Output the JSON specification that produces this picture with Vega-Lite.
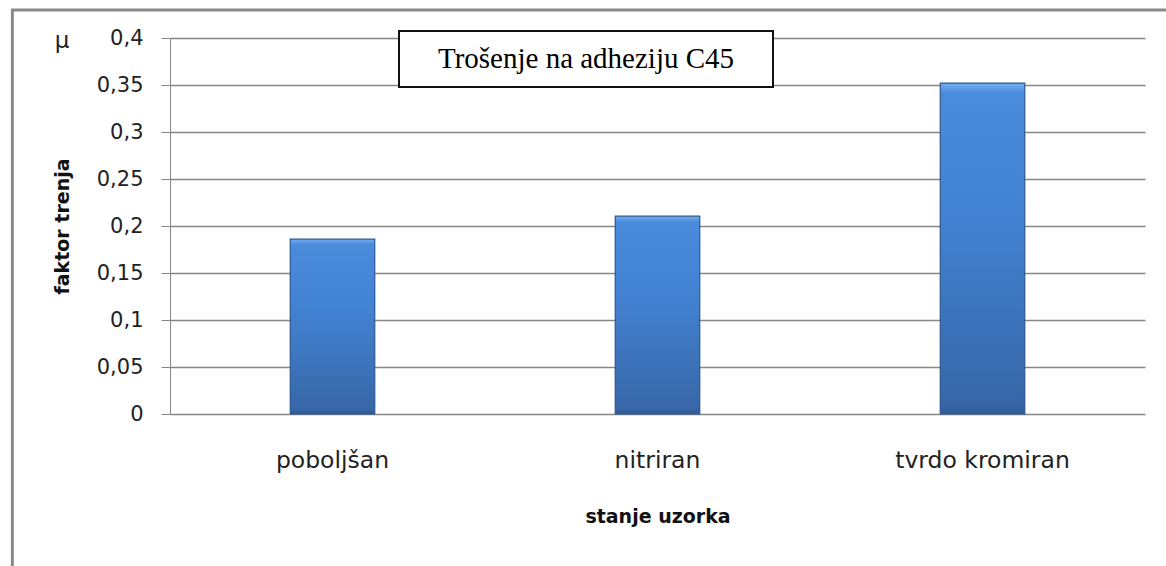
{
  "$schema": "https://vega.github.io/schema/vega-lite/v6.json",
  "width": 975,
  "height": 376,
  "autosize": {"type": "none"},
  "padding": {"left": 170, "top": 38, "right": 21, "bottom": 152},
  "background": "white",
  "config": {"view": {"stroke": null}},
  "resolve": {"scale": {"x": "independent", "y": "independent"}},
  "layer": [
    {
      "data": {"values": [{}]},
      "mark": {"type": "rect", "filled": false, "stroke": "#8a8a8a", "strokeWidth": 3},
      "encoding": {
        "x": {"datum": -0.485, "type": "quantitative", "scale": {"domain": [0, 3], "nice": false, "zero": false}, "axis": null},
        "x2": {"datum": 3.3},
        "y": {"datum": -0.3, "type": "quantitative", "scale": {"domain": [0, 0.4], "nice": false, "zero": false}, "axis": null},
        "y2": {"datum": 0.4298}
      }
    },
    {
      "data": {"values": [
        {"stanje": "poboljšan", "mu": 0.186},
        {"stanje": "nitriran", "mu": 0.2105},
        {"stanje": "tvrdo kromiran", "mu": 0.352}
      ]},
      "mark": {
        "type": "bar",
        "stroke": "#2c5690",
        "strokeWidth": 1.2,
        "fill": {
          "gradient": "linear", "x1": 0, "y1": 0, "x2": 0, "y2": 1,
          "stops": [
            {"offset": 0, "color": "#74aef0"},
            {"offset": 0.03, "color": "#4a8bdc"},
            {"offset": 0.4, "color": "#4282d2"},
            {"offset": 0.97, "color": "#3767a8"},
            {"offset": 1, "color": "#2f5b94"}
          ]
        }
      },
      "encoding": {
        "x": {
          "field": "stanje", "type": "nominal", "sort": null,
          "scale": {"paddingInner": 0.74, "paddingOuter": 0.37},
          "axis": {
            "title": "stanje uzorka",
            "titleFont": "DejaVu Sans", "titleFontSize": 19, "titleFontWeight": "bold", "titleColor": "#111",
            "titleY": 108, "titleBaseline": "alphabetic",
            "labelFont": "DejaVu Sans", "labelFontSize": 23.5, "labelColor": "#222", "labelAngle": 0,
            "labelPadding": 34, "ticks": false, "domain": false, "grid": false
          }
        },
        "y": {
          "field": "mu", "type": "quantitative",
          "scale": {"domain": [0, 0.4], "nice": false, "zero": true},
          "axis": {
            "title": "faktor trenja",
            "titleFont": "DejaVu Sans", "titleFontSize": 19, "titleFontWeight": "bold", "titleColor": "#111",
            "titleX": -108, "titleBaseline": "middle",
            "values": [0, 0.05, 0.1, 0.15, 0.2, 0.25, 0.3, 0.35, 0.4],
            "labelExpr": "replace(format(datum.value, '.2~f'), '.', ',')",
            "labelFont": "DejaVu Sans", "labelFontSize": 21, "labelColor": "#222", "labelPadding": 18,
            "tickSize": 9, "tickColor": "#868686", "domainColor": "#868686",
            "grid": true, "gridColor": "#868686", "gridWidth": 1.3
          }
        }
      }
    },
    {
      "data": {"values": [{}]},
      "mark": {"type": "rect", "fill": "white", "stroke": "#111", "strokeWidth": 2},
      "encoding": {
        "x": {"datum": 0.7046, "type": "quantitative", "scale": {"domain": [0, 3], "nice": false, "zero": false}, "axis": null},
        "x2": {"datum": 1.8554},
        "y": {"datum": 0.34787, "type": "quantitative", "scale": {"domain": [0, 0.4], "nice": false, "zero": false}, "axis": null},
        "y2": {"datum": 0.40745}
      }
    },
    {
      "data": {"values": [{"naslov": "Trošenje na adheziju C45"}]},
      "mark": {"type": "text", "font": "Liberation Serif", "fontSize": 29, "color": "#000", "align": "center", "baseline": "alphabetic"},
      "encoding": {
        "text": {"field": "naslov"},
        "x": {"datum": 1.28, "type": "quantitative", "scale": {"domain": [0, 3], "nice": false, "zero": false}, "axis": null},
        "y": {"datum": 0.3678, "type": "quantitative", "scale": {"domain": [0, 0.4], "nice": false, "zero": false}, "axis": null}
      }
    },
    {
      "data": {"values": [{"oznaka": "µ"}]},
      "mark": {"type": "text", "font": "DejaVu Sans", "fontSize": 23, "color": "#222", "align": "center", "baseline": "middle"},
      "encoding": {
        "text": {"field": "oznaka"},
        "x": {"datum": -0.332, "type": "quantitative", "scale": {"domain": [0, 3], "nice": false, "zero": false}, "axis": null},
        "y": {"datum": 0.3968, "type": "quantitative", "scale": {"domain": [0, 0.4], "nice": false, "zero": false}, "axis": null}
      }
    }
  ]
}
